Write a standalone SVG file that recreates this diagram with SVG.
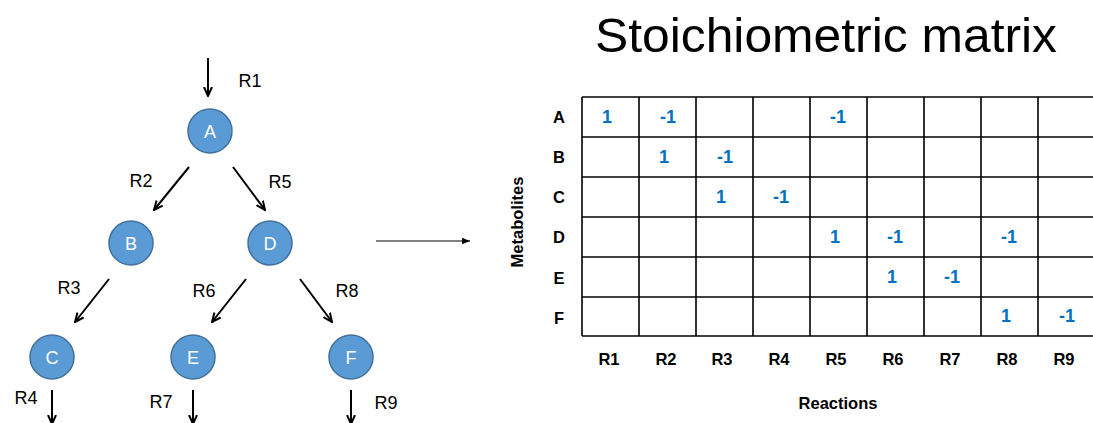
<svg xmlns="http://www.w3.org/2000/svg" width="1093" height="423" viewBox="0 0 1093 423">
<style>
.node circle{fill:#5B9BD5;stroke:#41719C;stroke-width:1.5}
.node text{fill:#fff;font-family:"Liberation Sans",sans-serif;font-size:18px;text-anchor:middle;dominant-baseline:central}
.rl{font-family:"Liberation Sans",sans-serif;font-size:18px;fill:#000;text-anchor:middle;dominant-baseline:central}
.arr{stroke:#000;stroke-width:2;fill:none;marker-end:url(#ah)}
.grid line{stroke:#000;stroke-width:1.6}
.hd{font-family:"Liberation Sans",sans-serif;font-weight:bold;font-size:16.5px;fill:#000;text-anchor:middle;dominant-baseline:central}
.v{font-family:"Liberation Sans",sans-serif;font-weight:bold;font-size:18px;fill:#0070C0;text-anchor:middle;dominant-baseline:central}
</style>
<defs>
<marker id="ah" viewBox="0 0 10 10" refX="9" refY="5" markerWidth="5" markerHeight="5" orient="auto" markerUnits="strokeWidth">
<path d="M0,1 L9,5 L0,9" fill="none" stroke="#000" stroke-width="2"/>
</marker>
<marker id="ah2" viewBox="0 0 10 10" refX="10" refY="5" markerWidth="8" markerHeight="8" orient="auto" markerUnits="userSpaceOnUse">
<path d="M0,1 L10,5 L0,9 z" fill="#000"/>
</marker>
</defs>
<rect width="1093" height="423" fill="#fff"/>
<g id="connectors">
<line class="arr" x1="208" y1="58" x2="208" y2="96"/>
<line class="arr" x1="189" y1="167" x2="154" y2="210"/>
<line class="arr" x1="233" y1="167" x2="265" y2="210"/>
<line class="arr" x1="109" y1="279" x2="75" y2="322"/>
<line class="arr" x1="246" y1="279" x2="212" y2="322"/>
<line class="arr" x1="300" y1="279" x2="332" y2="322"/>
<line class="arr" x1="52" y1="390" x2="52" y2="424"/>
<line class="arr" x1="193" y1="390" x2="193" y2="424"/>
<line class="arr" x1="351" y1="390" x2="351" y2="424"/>
<line x1="376" y1="241" x2="470" y2="241" stroke="#000" stroke-width="1" marker-end="url(#ah2)"/>
</g>
<g id="reaction-labels">
<text class="rl" x="250" y="81">R1</text>
<text class="rl" x="141" y="181">R2</text>
<text class="rl" x="280" y="182">R5</text>
<text class="rl" x="69" y="288">R3</text>
<text class="rl" x="204" y="291">R6</text>
<text class="rl" x="347" y="291">R8</text>
<text class="rl" x="26" y="398">R4</text>
<text class="rl" x="161" y="402">R7</text>
<text class="rl" x="386" y="403">R9</text>
</g>
<g id="node-A" class="node"><circle cx="210" cy="131" r="22"/><text x="210" y="132">A</text></g>
<g id="node-B" class="node"><circle cx="131" cy="243" r="22"/><text x="131" y="244">B</text></g>
<g id="node-D" class="node"><circle cx="270" cy="243" r="22"/><text x="270" y="244">D</text></g>
<g id="node-C" class="node"><circle cx="52" cy="357" r="22"/><text x="52" y="358">C</text></g>
<g id="node-E" class="node"><circle cx="193" cy="357" r="22"/><text x="193" y="358">E</text></g>
<g id="node-F" class="node"><circle cx="351" cy="357" r="22"/><text x="351" y="358">F</text></g>
<text x="826" y="52" font-family="'Liberation Sans',sans-serif" font-size="48" text-anchor="middle" textLength="462" lengthAdjust="spacingAndGlyphs">Stoichiometric matrix</text>
<g id="matrix">
<g class="grid">
<line x1="582" y1="97" x2="1095" y2="97"/>
<line x1="582" y1="137" x2="1095" y2="137"/>
<line x1="582" y1="177" x2="1095" y2="177"/>
<line x1="582" y1="217" x2="1095" y2="217"/>
<line x1="582" y1="257" x2="1095" y2="257"/>
<line x1="582" y1="297" x2="1095" y2="297"/>
<line x1="582" y1="336" x2="1095" y2="336"/>
<line x1="582" y1="97" x2="582" y2="336"/>
<line x1="639" y1="97" x2="639" y2="336"/>
<line x1="696" y1="97" x2="696" y2="336"/>
<line x1="753" y1="97" x2="753" y2="336"/>
<line x1="810" y1="97" x2="810" y2="336"/>
<line x1="867" y1="97" x2="867" y2="336"/>
<line x1="924" y1="97" x2="924" y2="336"/>
<line x1="981" y1="97" x2="981" y2="336"/>
<line x1="1038" y1="97" x2="1038" y2="336"/>
</g>
<text class="hd" x="559" y="117">A</text>
<text class="hd" x="559" y="157">B</text>
<text class="hd" x="559" y="197">C</text>
<text class="hd" x="559" y="237">D</text>
<text class="hd" x="559" y="278">E</text>
<text class="hd" x="559" y="318">F</text>
<text class="hd" x="609" y="359">R1</text>
<text class="hd" x="666" y="359">R2</text>
<text class="hd" x="722" y="359">R3</text>
<text class="hd" x="779" y="359">R4</text>
<text class="hd" x="836" y="359">R5</text>
<text class="hd" x="893" y="359">R6</text>
<text class="hd" x="950" y="359">R7</text>
<text class="hd" x="1007" y="359">R8</text>
<text class="hd" x="1064" y="359">R9</text>
<text class="hd" x="838" y="403">Reactions</text>
<text class="hd" transform="translate(517,222) rotate(-90)">Metabolites</text>
<text class="v" x="607" y="117">1</text>
<text class="v" x="668" y="117">-1</text>
<text class="v" x="838" y="117">-1</text>
<text class="v" x="664" y="157">1</text>
<text class="v" x="725" y="157">-1</text>
<text class="v" x="721" y="197">1</text>
<text class="v" x="781" y="197">-1</text>
<text class="v" x="835" y="237">1</text>
<text class="v" x="895" y="237">-1</text>
<text class="v" x="1009" y="237">-1</text>
<text class="v" x="892" y="277">1</text>
<text class="v" x="952" y="277">-1</text>
<text class="v" x="1006" y="316">1</text>
<text class="v" x="1067" y="316">-1</text>
</g>
</svg>
